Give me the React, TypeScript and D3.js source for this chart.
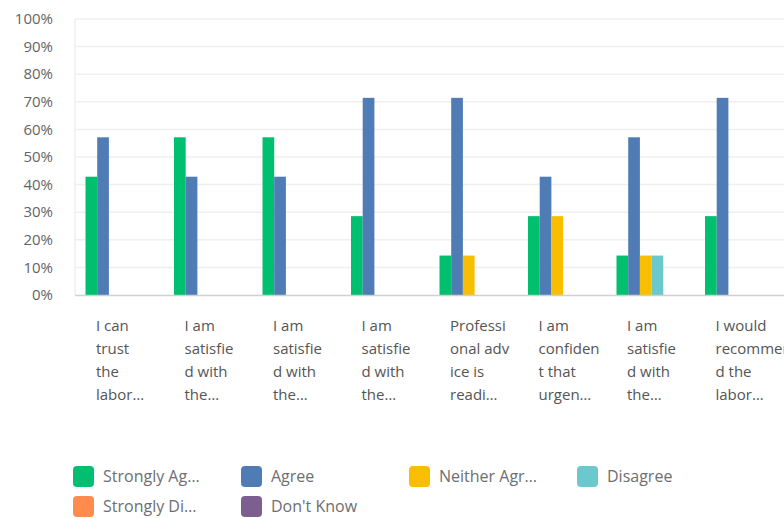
import React from 'react';
import * as d3 from 'd3';

// survey answers, 7 respondents -> shares in %
const categories = [
  ['I can', 'trust', 'the', 'labor…'],
  ['I am', 'satisfie', 'd with', 'the…'],
  ['I am', 'satisfie', 'd with', 'the…'],
  ['I am', 'satisfie', 'd with', 'the…'],
  ['Professi', 'onal adv', 'ice is', 'readi…'],
  ['I am', 'confiden', 't that', 'urgen…'],
  ['I am', 'satisfie', 'd with', 'the…'],
  ['I would', 'recommen', 'd the', 'labor…'],
];

const seriesNames = ['Strongly Ag…', 'Agree', 'Neither Agr…', 'Disagree', 'Strongly Di…', "Don't Know"];
const seriesColors = ['#00bf6f', '#507cb6', '#f9be00', '#6bc8cd', '#ff8b4f', '#7d5e90'];

const stronglyAgree = [42.86, 57.14, 57.14, 28.57, 14.29, 28.57, 14.29, 28.57];
const agree = [57.14, 42.86, 42.86, 71.43, 71.43, 42.86, 57.14, 71.43];
const neither = [0, 0, 0, 0, 14.29, 28.57, 14.29, 0];
const disagree = [0, 0, 0, 0, 0, 0, 14.29, 0];
const stronglyDisagree = [0, 0, 0, 0, 0, 0, 0, 0];
const dontKnow = [0, 0, 0, 0, 0, 0, 0, 0];

const yTicks = [0, 10, 20, 30, 40, 50, 60, 70, 80, 90, 100];

const App = () => {
  const width = 784;
  const height = 518;
  const left = 75;
  const right = 783;
  const top = 19;
  const bottom = 295;
  const font = '"Open Sans", sans-serif';

  const series = [stronglyAgree, agree, neither, disagree, stronglyDisagree, dontKnow];

  const x = d3.scaleBand<number>().domain(d3.range(categories.length)).range([left, right]);
  const slot = d3.scaleBand<number>().domain(d3.range(series.length)).range([10.5, 10.5 + 6 * 11.7]);
  const y = d3.scaleLinear().domain([0, 100]).range([bottom, top]);

  return (
    <svg width={width} height={height} style={{ position: 'absolute', left: 0, top: 0 }} fontFamily={font}>
      {yTicks.map(t => (
        <g key={t}>
          {t > 0 && <line x1={left} x2={width} y1={y(t)} y2={y(t)} stroke="#efefef" strokeWidth={1.5} />}
          <text x={53} y={y(t)} dy="0.35em" textAnchor="end" fontSize={15} fill="#636466">{t}%</text>
        </g>
      ))}
      <line x1={left} x2={left} y1={top} y2={bottom} stroke="#e6e6e6" />
      {series.map((vals, s) =>
        vals.map((v, i) =>
          v > 0 ? (
            <rect key={`${s}-${i}`} x={(x(i) ?? 0) + (slot(s) ?? 0)} y={y(v)} width={slot.bandwidth()}
              height={bottom - y(v)} fill={seriesColors[s]} />
          ) : null
        )
      )}
      <line x1={left} x2={width} y1={bottom + 0.5} y2={bottom + 0.5} stroke="#d0d0d0" strokeWidth={1.5} />
      {categories.map((lines, i) => (
        <text key={i} y={331} fontSize={15} fill="#555">
          {lines.map((l, j) => (
            <tspan key={j} x={(x(i) ?? 0) + 21} dy={j === 0 ? 0 : 23}>{l}</tspan>
          ))}
        </text>
      ))}
      {seriesNames.map((name, s) => {
        const col = s % 4;
        const row = Math.floor(s / 4);
        const lx = [73, 241, 409, 577][col];
        const ly = 466 + row * 30;
        return (
          <g key={name}>
            <rect x={lx} y={ly} width={21} height={21} rx={4} fill={seriesColors[s]} />
            <text x={lx + 30} y={ly + 10.5} dy="0.35em" fontSize={16} fill="#6d6e71">{name}</text>
          </g>
        );
      })}
    </svg>
  );
};

export default App;
